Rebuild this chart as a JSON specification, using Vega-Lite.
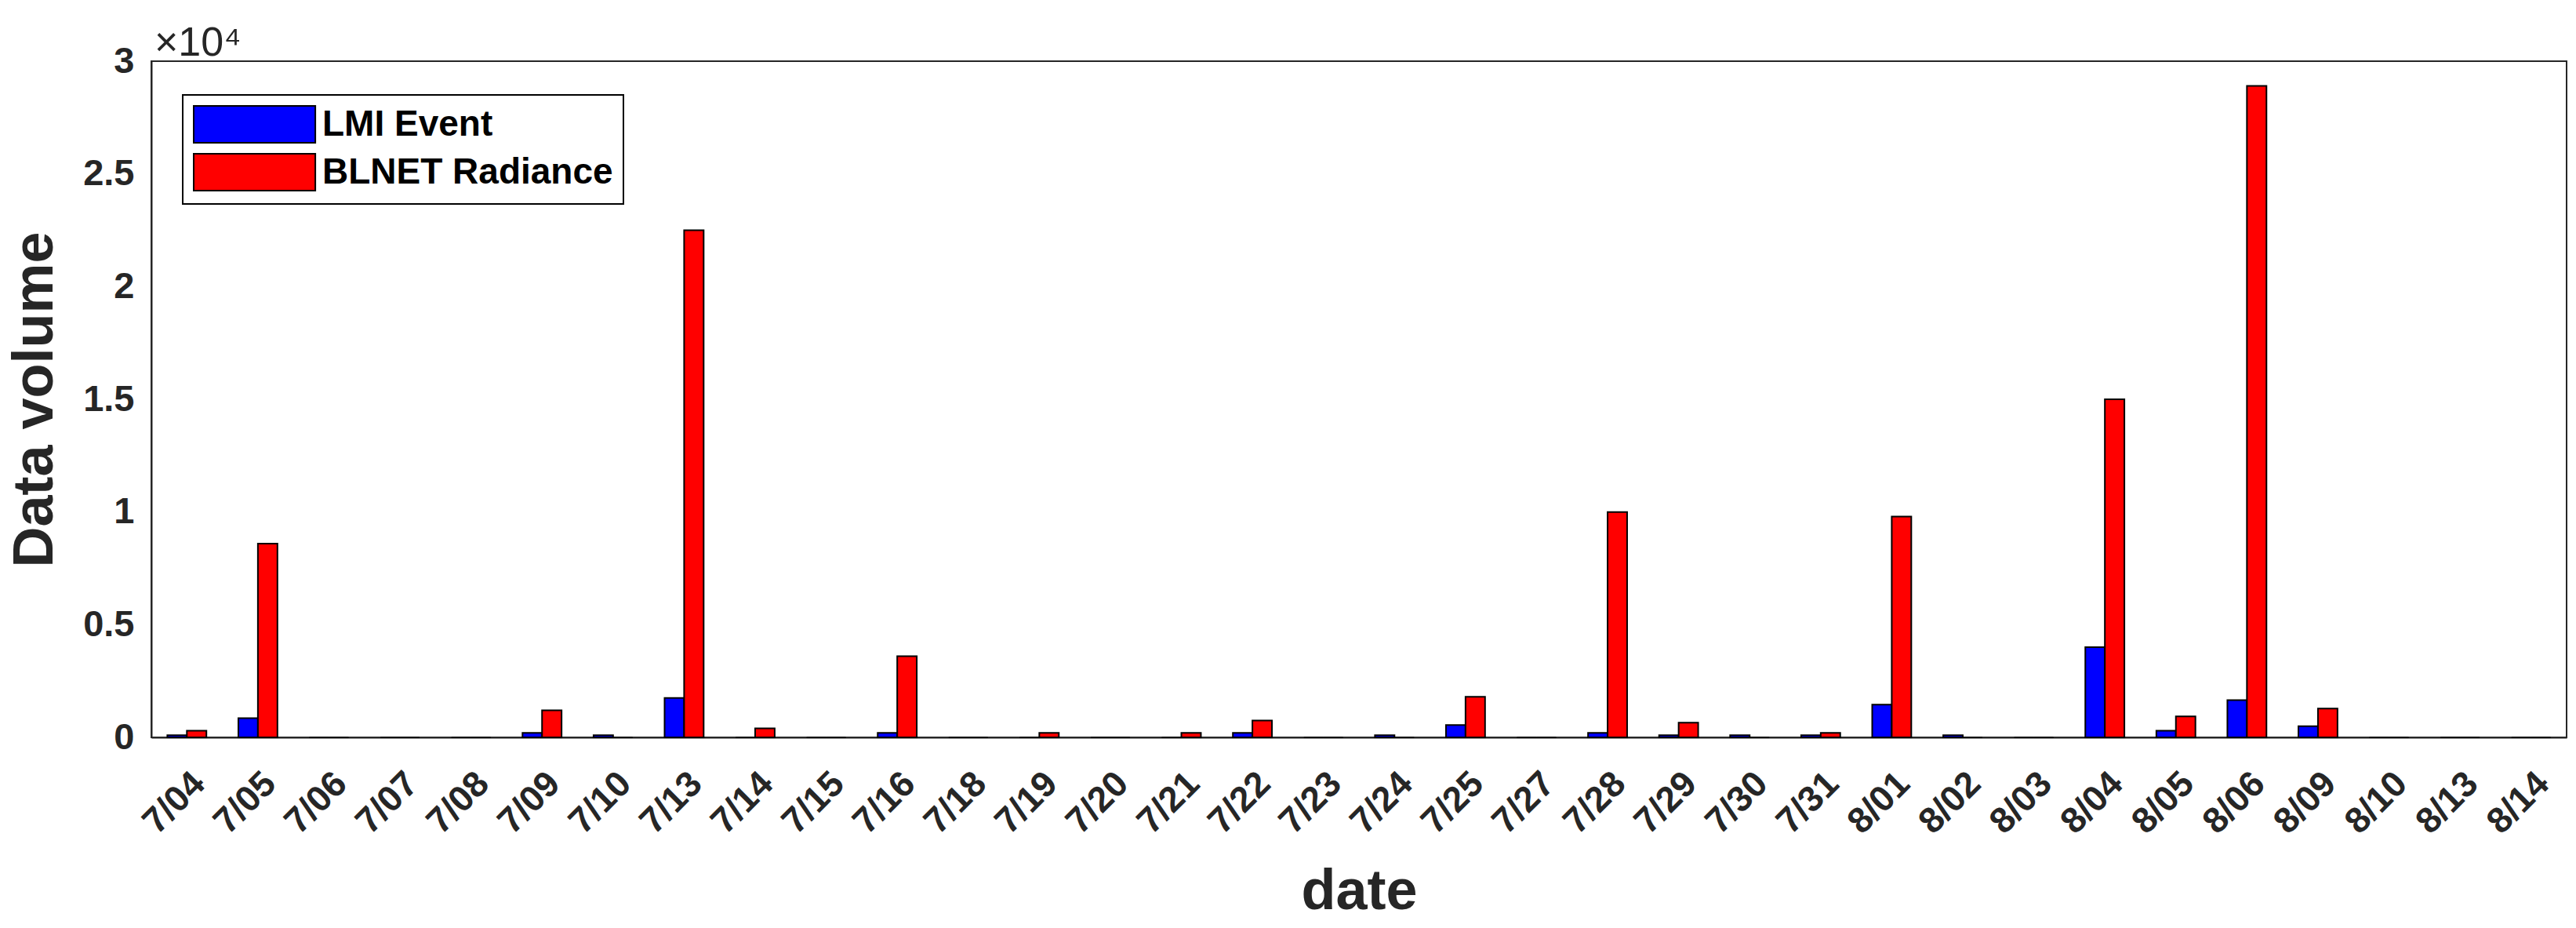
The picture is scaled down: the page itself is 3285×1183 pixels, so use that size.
{
  "$schema": "https://vega.github.io/schema/vega-lite/v6.json",
  "width": 3080,
  "height": 862,
  "autosize": {"type": "none"},
  "padding": {"left": 193, "top": 78, "right": 12, "bottom": 243},
  "background": "white",
  "title": {"text": "×10⁴", "anchor": "start", "frame": "group", "fontSize": 52, "fontWeight": "normal", "font": "Liberation Sans", "color": "#262626", "offset": -28, "dx": 4},
  "config": {"view": {"stroke": "#262626", "strokeWidth": 2}, "font": "Liberation Sans"},
  "data": {"values": [
    {"date": "7/04", "series": "LMI Event", "value": 100}, {"date": "7/04", "series": "BLNET Radiance", "value": 300},
    {"date": "7/05", "series": "LMI Event", "value": 850}, {"date": "7/05", "series": "BLNET Radiance", "value": 8600},
    {"date": "7/06", "series": "LMI Event", "value": 0}, {"date": "7/06", "series": "BLNET Radiance", "value": 0},
    {"date": "7/07", "series": "LMI Event", "value": 0}, {"date": "7/07", "series": "BLNET Radiance", "value": 0},
    {"date": "7/08", "series": "LMI Event", "value": 0}, {"date": "7/08", "series": "BLNET Radiance", "value": 0},
    {"date": "7/09", "series": "LMI Event", "value": 200}, {"date": "7/09", "series": "BLNET Radiance", "value": 1200},
    {"date": "7/10", "series": "LMI Event", "value": 100}, {"date": "7/10", "series": "BLNET Radiance", "value": 0},
    {"date": "7/13", "series": "LMI Event", "value": 1750}, {"date": "7/13", "series": "BLNET Radiance", "value": 22500},
    {"date": "7/14", "series": "LMI Event", "value": 0}, {"date": "7/14", "series": "BLNET Radiance", "value": 400},
    {"date": "7/15", "series": "LMI Event", "value": 0}, {"date": "7/15", "series": "BLNET Radiance", "value": 0},
    {"date": "7/16", "series": "LMI Event", "value": 200}, {"date": "7/16", "series": "BLNET Radiance", "value": 3600},
    {"date": "7/18", "series": "LMI Event", "value": 0}, {"date": "7/18", "series": "BLNET Radiance", "value": 0},
    {"date": "7/19", "series": "LMI Event", "value": 0}, {"date": "7/19", "series": "BLNET Radiance", "value": 200},
    {"date": "7/20", "series": "LMI Event", "value": 0}, {"date": "7/20", "series": "BLNET Radiance", "value": 0},
    {"date": "7/21", "series": "LMI Event", "value": 0}, {"date": "7/21", "series": "BLNET Radiance", "value": 200},
    {"date": "7/22", "series": "LMI Event", "value": 200}, {"date": "7/22", "series": "BLNET Radiance", "value": 750},
    {"date": "7/23", "series": "LMI Event", "value": 0}, {"date": "7/23", "series": "BLNET Radiance", "value": 0},
    {"date": "7/24", "series": "LMI Event", "value": 100}, {"date": "7/24", "series": "BLNET Radiance", "value": 0},
    {"date": "7/25", "series": "LMI Event", "value": 550}, {"date": "7/25", "series": "BLNET Radiance", "value": 1800},
    {"date": "7/27", "series": "LMI Event", "value": 0}, {"date": "7/27", "series": "BLNET Radiance", "value": 0},
    {"date": "7/28", "series": "LMI Event", "value": 200}, {"date": "7/28", "series": "BLNET Radiance", "value": 10000},
    {"date": "7/29", "series": "LMI Event", "value": 100}, {"date": "7/29", "series": "BLNET Radiance", "value": 650},
    {"date": "7/30", "series": "LMI Event", "value": 100}, {"date": "7/30", "series": "BLNET Radiance", "value": 0},
    {"date": "7/31", "series": "LMI Event", "value": 100}, {"date": "7/31", "series": "BLNET Radiance", "value": 200},
    {"date": "8/01", "series": "LMI Event", "value": 1450}, {"date": "8/01", "series": "BLNET Radiance", "value": 9800},
    {"date": "8/02", "series": "LMI Event", "value": 100}, {"date": "8/02", "series": "BLNET Radiance", "value": 0},
    {"date": "8/03", "series": "LMI Event", "value": 0}, {"date": "8/03", "series": "BLNET Radiance", "value": 0},
    {"date": "8/04", "series": "LMI Event", "value": 4000}, {"date": "8/04", "series": "BLNET Radiance", "value": 15000},
    {"date": "8/05", "series": "LMI Event", "value": 300}, {"date": "8/05", "series": "BLNET Radiance", "value": 930},
    {"date": "8/06", "series": "LMI Event", "value": 1650}, {"date": "8/06", "series": "BLNET Radiance", "value": 28900},
    {"date": "8/09", "series": "LMI Event", "value": 500}, {"date": "8/09", "series": "BLNET Radiance", "value": 1280},
    {"date": "8/10", "series": "LMI Event", "value": 0}, {"date": "8/10", "series": "BLNET Radiance", "value": 0},
    {"date": "8/13", "series": "LMI Event", "value": 0}, {"date": "8/13", "series": "BLNET Radiance", "value": 0},
    {"date": "8/14", "series": "LMI Event", "value": 0}, {"date": "8/14", "series": "BLNET Radiance", "value": 0}
  ]},
  "mark": {"type": "bar", "stroke": "#000000", "strokeWidth": 2},
  "encoding": {
    "x": {
      "field": "date", "type": "nominal", "sort": null,
      "scale": {"paddingInner": 0.45, "paddingOuter": 0.225},
      "axis": {
        "title": "date", "titleFontSize": 72, "titleFontWeight": "bold", "titleColor": "#262626", "titlePadding": 30,
        "labelAngle": -45, "labelAlign": "right", "labelBaseline": "top", "labelFontSize": 46, "labelFontWeight": "bold",
        "labelColor": "#262626", "labelPadding": 36, "ticks": false, "domainColor": "#262626", "domainWidth": 2, "grid": false
      }
    },
    "xOffset": {"field": "series", "type": "nominal", "sort": ["LMI Event", "BLNET Radiance"], "scale": {"paddingInner": 0}},
    "y": {
      "field": "value", "type": "quantitative",
      "scale": {"domain": [0, 30000], "nice": false},
      "axis": {
        "title": "Data volume", "titleFontSize": 72, "titleFontWeight": "bold", "titleColor": "#262626", "titlePadding": 24,
        "values": [0, 5000, 10000, 15000, 20000, 25000, 30000], "labelExpr": "datum.value / 10000 + ''",
        "labelFontSize": 47, "labelFontWeight": "bold", "labelColor": "#262626", "labelPadding": 22,
        "ticks": false, "domainColor": "#262626", "domainWidth": 2, "grid": false
      }
    },
    "color": {
      "field": "series", "type": "nominal",
      "scale": {"domain": ["LMI Event", "BLNET Radiance"], "range": ["#0000FF", "#FF0000"]},
      "legend": {
        "title": null, "orient": "none", "legendX": 40, "legendY": 43, "direction": "vertical",
        "symbolType": "M-1,-1L5.6,-1L5.6,1L-1,1Z", "symbolSize": 2209, "symbolStrokeColor": "#000000", "symbolStrokeWidth": 2, "symbolOpacity": 1,
        "labelFontSize": 46, "labelFontWeight": "bold", "labelColor": "#000000", "labelOffset": 116, "labelLimit": 0, "rowPadding": 6,
        "padding": 13, "strokeColor": "#000000", "fillColor": "#FFFFFF", "cornerRadius": 0,
        "encode": {"legend": {"update": {"strokeWidth": {"value": 2}}}}
      }
    }
  }
}
